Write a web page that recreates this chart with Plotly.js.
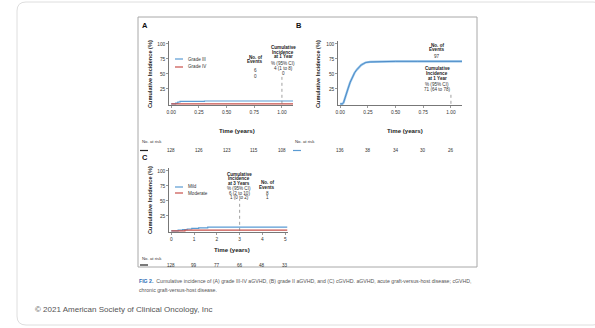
<!DOCTYPE html>
<html>
<head>
<meta charset="utf-8">
<script src="https://cdn.plot.ly/plotly-3.0.1.min.js"></script>
<style>html,body{margin:0;padding:0;background:#fff;}#chart{width:595px;height:328px;}</style>
</head>
<body>
<div id="chart"></div>
<script>
// ---------------- DATA ----------------
// Panel A: grade III-IV aGVHD
const seriesNamesA = ["Grade III", "Grade IV"];
const timeA_III = [0, 0.04, 0.06, 0.08, 0.3, 1.1];
const ciA_III   = [0, 1, 3, 4, 4.7, 4.7];
const timeA_IV  = [0, 1.1];
const ciA_IV    = [0, 0];
const eventsA   = ["6", "0"];
const ciTextA   = ["4 (1 to 8)", "0"];
const riskTimesA = [0, 0.25, 0.5, 0.75, 1.0];
const riskA      = ["128", "126", "123", "115", "108"];
const tickValsAB = [0, 0.25, 0.5, 0.75, 1.0];
const tickTextAB = ["0.00", "0.25", "0.50", "0.75", "1.00"];
const landmarkA = 1.0;

// Panel B: grade II aGVHD
const timeB = [0, 0.02, 0.03, 0.05, 0.07, 0.09, 0.11, 0.13, 0.15, 0.17, 0.19, 0.21, 0.23, 0.27, 0.35, 0.5, 0.7, 1.1];
const ciB   = [0, 0, 2, 12, 25, 36, 45, 52, 57, 62, 65, 67, 69, 70, 70.5, 71, 71, 71];
const eventsB = "97";
const ciTextB = "71 (64 to 78)";
const riskTimesB = [0, 0.25, 0.5, 0.75, 1.0];
const riskB      = ["136", "38", "34", "30", "26"];
const landmarkB = 1.0;

// Panel C: cGVHD
const seriesNamesC = ["Mild", "Moderate"];
const timeC_mild = [0, 0.3, 0.5, 0.7, 0.9, 1.2, 1.6, 5.1];
const ciC_mild   = [0, 1, 2, 3, 4, 5, 6, 6];
const timeC_mod  = [0, 0.6, 5.1];
const ciC_mod    = [0, 1, 1];
const eventsC    = ["8", "1"];
const ciTextC    = ["6 (2 to 10)", "1 (0 to 2)"];
const riskTimesC = [0, 1, 2, 3, 4, 5];
const riskC      = ["128", "99", "77", "66", "48", "33"];
const tickValsC  = [0, 1, 2, 3, 4, 5];
const landmarkC = 3;

const yTickVals = [25, 50, 75, 100];

// ---------------- LAYOUT HELPERS ----------------
const W = 595, H = 328;
const px = x => x / W;
const py = y => 1 - y / H;
const FONT = "Liberation Sans, Arial, sans-serif";
const BLUE = "#5a9bd3", RED = "#c8504b", TXT = "#333";

const traces = [
  {x: timeA_III, y: ciA_III, type: "scatter", mode: "lines", line: {shape: "hv", color: BLUE, width: 1.2}, xaxis: "x", yaxis: "y", name: seriesNamesA[0]},
  {x: timeA_IV, y: ciA_IV, type: "scatter", mode: "lines", line: {shape: "hv", color: RED, width: 1.2}, xaxis: "x", yaxis: "y", name: seriesNamesA[1]},
  {x: timeB, y: ciB, type: "scatter", mode: "lines", line: {color: "#8fc0e8", width: 2.2}, xaxis: "x2", yaxis: "y2"},
  {x: timeB, y: ciB, type: "scatter", mode: "lines", line: {color: "#3f7fbf", width: 0.8}, xaxis: "x2", yaxis: "y2"},
  {x: timeC_mild, y: ciC_mild, type: "scatter", mode: "lines", line: {shape: "hv", color: BLUE, width: 1.2}, xaxis: "x3", yaxis: "y3", name: seriesNamesC[0]},
  {x: timeC_mod, y: ciC_mod, type: "scatter", mode: "lines", line: {shape: "hv", color: RED, width: 1.2}, xaxis: "x3", yaxis: "y3", name: seriesNamesC[1]}
];

const axisBase = {
  showline: true, linecolor: "#555", linewidth: 0.8, showgrid: false, zeroline: false,
  ticks: "outside", ticklen: 2, tickwidth: 0.6, tickcolor: "#555",
  tickfont: {family: FONT, size: 4.8, color: TXT}, fixedrange: true
};
const xAB = Object.assign({}, axisBase, {range: [-0.02, 1.1], tickvals: tickValsAB, ticktext: tickTextAB});
const yAxis = Object.assign({}, axisBase, {range: [-2, 105], tickvals: yTickVals});

const layout = {
  width: W, height: H, margin: {l: 0, r: 0, t: 0, b: 0},
  paper_bgcolor: "#fff", plot_bgcolor: "rgba(0,0,0,0)", showlegend: false,
  xaxis: Object.assign({}, xAB, {domain: [px(169), px(293)], anchor: "y"}),
  yaxis: Object.assign({}, yAxis, {domain: [py(105), py(41)], anchor: "x"}),
  xaxis2: Object.assign({}, xAB, {domain: [px(338), px(462)], anchor: "y2"}),
  yaxis2: Object.assign({}, yAxis, {domain: [py(105), py(41)], anchor: "x2"}),
  xaxis3: Object.assign({}, axisBase, {range: [-0.1, 5.1], tickvals: tickValsC, domain: [px(169), px(287.5)], anchor: "y3"}),
  yaxis3: Object.assign({}, yAxis, {domain: [py(232), py(168)], anchor: "x3"}),
  shapes: [], annotations: []
};

// card border with rounded corners
(function(){
  const x0 = px(17), x1 = px(602), y0 = py(2), y1 = py(325), rx = px(9), ry = 9 / H;
  const d = `M ${x0} ${y0 - ry} Q ${x0} ${y0} ${x0 + rx} ${y0} L ${x1 - rx} ${y0} Q ${x1} ${y0} ${x1} ${y0 - ry} ` +
            `L ${x1} ${y1 + ry} Q ${x1} ${y1} ${x1 - rx} ${y1} L ${x0 + rx} ${y1} Q ${x0} ${y1} ${x0} ${y1 + ry} Z`;
  layout.shapes.push({type: "path", xref: "paper", yref: "paper", path: d, line: {color: "#dedede", width: 1}});
})();
// figure box
layout.shapes.push({type: "rect", xref: "paper", yref: "paper", x0: px(138), x1: px(477), y0: py(267), y1: py(17), line: {color: "#a8a8a8", width: 1}});

function ann(x, y, text, opts) {
  layout.annotations.push(Object.assign({
    xref: "paper", yref: "paper", x: px(x), y: py(y), text: text, showarrow: false,
    xanchor: "center", yanchor: "middle", font: {family: FONT, size: 4.6, color: TXT}
  }, opts || {}));
}
function stack(x, y0, lines, step, opts) {
  lines.forEach((t, i) => ann(x, y0 + i * step, t, opts));
}
function legendLine(x0, x1, y, color) {
  layout.shapes.push({type: "line", xref: "paper", yref: "paper", x0: px(x0), x1: px(x1), y0: py(y), y1: py(y), line: {color: color, width: 1.2}});
}
function riskDash(x0, x1, y, color) {
  layout.shapes.push({type: "line", xref: "paper", yref: "paper", x0: px(x0), x1: px(x1), y0: py(y), y1: py(y), line: {color: color || "#222", width: 1.2}});
}
function dotted(xref, yref, xv, ytop) {
  layout.shapes.push({type: "line", xref: xref, yref: yref, x0: xv, x1: xv, y0: 0, y1: ytop, line: {color: "#777", width: 0.7, dash: "dot"}});
}
function risk(xref, times, vals, y) {
  times.forEach((t, i) => layout.annotations.push({xref: xref, yref: "paper", x: t, y: py(y), text: vals[i], showarrow: false,
    xanchor: "center", yanchor: "middle", font: {family: FONT, size: 4.6, color: TXT}}));
}
const bold = {font: {family: FONT, size: 4.6, color: "#222", weight: "bold"}};
const labelFont = {family: FONT, size: 5.6, color: "#222", weight: "bold"};
const timeFont = {family: FONT, size: 6.1, color: "#222", weight: "bold"};
const letterFont = {family: FONT, size: 7.5, color: "#111", weight: "bold"};
const riskLbl = {xanchor: "left", font: {family: FONT, size: 4.3, color: TXT}};

// ---------- Panel A ----------
ann(145, 26, "A", {font: letterFont});
ann(150, 74, "Cumulative Incidence (%)", {textangle: -90, font: labelFont});
ann(237, 130, "Time (years)", {font: timeFont});
legendLine(175, 183, 59, BLUE); ann(186, 59, seriesNamesA[0], {xanchor: "left"});
legendLine(175, 183, 67, RED);  ann(186, 67, seriesNamesA[1], {xanchor: "left"});
stack(255, 57, ["No. of", "Events"], 4.6, bold);
ann(255, 71, eventsA[0]); ann(255, 76, eventsA[1]);
stack(283, 47.5, ["Cumulative", "Incidence", "at 1 Year"], 4.6, bold);
ann(283, 63.5, "% (95% CI)");
ann(283, 68.5, ciTextA[0]); ann(283, 73.5, ciTextA[1]);
dotted("x", "y", landmarkA, 45);
ann(140, 142, "No. at risk", riskLbl);
riskDash(140, 148, 150.5);
risk("x", riskTimesA, riskA, 150.5);

// ---------- Panel B ----------
ann(299, 26, "B", {font: letterFont});
ann(318, 74, "Cumulative Incidence (%)", {textangle: -90, font: labelFont});
ann(405, 130, "Time (years)", {font: timeFont});
stack(437, 45, ["No. of", "Events"], 4.6, bold);
ann(437, 56, eventsB);
stack(437, 69, ["Cumulative", "Incidence", "at 1 Year"], 4.6, bold);
ann(437, 84.5, "% (95% CI)");
ann(437, 89.5, ciTextB);
dotted("x2", "y2", landmarkB, 19);
ann(293, 142, "No. at risk", riskLbl);
riskDash(293, 301, 150.5, BLUE);
risk("x2", riskTimesB, riskB, 150.5);

// ---------- Panel C ----------
ann(145, 157.5, "C", {font: letterFont});
ann(150, 200, "Cumulative Incidence (%)", {textangle: -90, font: labelFont});
ann(232, 249, "Time (years)", {font: timeFont});
legendLine(175, 183, 187, BLUE); ann(186, 187, seriesNamesC[0], {xanchor: "left"});
legendLine(175, 183, 193, RED);  ann(186, 193, seriesNamesC[1], {xanchor: "left"});
stack(239, 174, ["Cumulative", "Incidence", "at 3 Years"], 4.6, bold);
ann(239, 188.5, "% (95% CI)");
ann(239, 193, ciTextC[0]); ann(239, 197.5, ciTextC[1]);
stack(267, 182.5, ["No. of", "Events"], 4.6, bold);
ann(267, 193, eventsC[0]); ann(267, 197.5, eventsC[1]);
dotted("x3", "y3", landmarkC, 53);
ann(140, 258, "No. at risk", riskLbl);
riskDash(140, 148, 265);
risk("x3", riskTimesC, riskC, 265);

// ---------- Caption & credit ----------
ann(137, 281, "<span style='color:#2f6db5'><b>FIG 2.</b></span>  Cumulative incidence of (A) grade III-IV aGVHD, (B) grade II aGVHD, and (C) cGVHD. aGVHD, acute graft-versus-host disease; cGVHD,",
  {xanchor: "left", font: {family: FONT, size: 5.2, color: "#555"}});
ann(137, 290, "chronic graft-versus-host disease.", {xanchor: "left", font: {family: FONT, size: 5.2, color: "#555"}});
ann(33, 309, "© 2021 American Society of Clinical Oncology, Inc", {xanchor: "left", font: {family: FONT, size: 8, color: "#555"}});

Plotly.newPlot("chart", traces, layout, {staticPlot: true, displayModeBar: false});
</script>
</body>
</html>
